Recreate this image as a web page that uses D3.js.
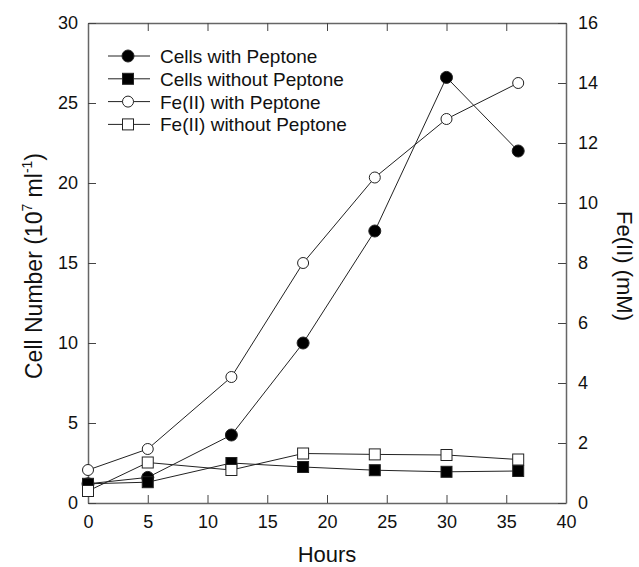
<!DOCTYPE html>
<html>
<head>
<meta charset="utf-8">
<title>Cell number and Fe(II) vs hours</title>
<script src="https://d3js.org/d3.v7.min.js"></script>
<style>
  body { margin: 0; background: #fff; }
  svg { display: block; font-family: "Liberation Sans", Arial, sans-serif; }
</style>
</head>
<body>
<svg id="chart" width="639" height="567"></svg>
<script>
// values
const hours = [0, 5, 12, 18, 24, 30, 36];
const cellsWithPeptone = [1.2, 1.6, 4.25, 10.0, 17.0, 26.6, 22.0];
const cellsWithoutPeptone = [1.2, 1.3, 2.5, 2.25, 2.05, 1.95, 2.0];
const feWithPeptone = [1.1, 1.8, 4.2, 8.0, 10.85, 12.8, 14.0];
const feWithoutPeptone = [0.4, 1.35, 1.1, 1.65, 1.62, 1.6, 1.45];

const xTicks = [0, 5, 10, 15, 20, 25, 30, 35, 40];
const leftTicks = [0, 5, 10, 15, 20, 25, 30];
const rightTicks = [0, 2, 4, 6, 8, 10, 12, 14, 16];

const legendLabels = ["Cells with Peptone", "Cells without Peptone", "Fe(II) with Peptone", "Fe(II) without Peptone"];

const plotL = 88, plotR = 566, plotT = 23, plotB = 503;

const svg = d3.select("#chart");
const x = d3.scaleLinear().domain([0, 40]).range([plotL, plotR]);
const yL = d3.scaleLinear().domain([0, 30]).range([plotB, plotT]);
const yR = d3.scaleLinear().domain([0, 16]).range([plotB, plotT]);

// series setup
const series = [
  {vals: cellsWithPeptone, y: yL, shape: "circle", fill: "#000"},
  {vals: cellsWithoutPeptone, y: yL, shape: "square", fill: "#000"},
  {vals: feWithPeptone, y: yR, shape: "circle", fill: "#fff"},
  {vals: feWithoutPeptone, y: yR, shape: "square", fill: "#fff"}
];

// axes, ticks inward, frame
const tickLen = 8;
function axisGroup(axis, tx, ty) {
  const g = svg.append("g").attr("transform", "translate(" + tx + "," + ty + ")").call(axis);
  g.select(".domain").attr("stroke", "#666").attr("stroke-width", 1.5);
  g.selectAll(".tick line").attr("stroke", "#444");
  g.selectAll(".tick text").attr("font-size", 18).attr("fill", "#111")
    .attr("font-family", "Liberation Sans, Arial, sans-serif");
  return g;
}

axisGroup(d3.axisBottom(x).tickValues(xTicks).tickSizeInner(-tickLen).tickSizeOuter(0).tickPadding(12), 0, plotB);
axisGroup(d3.axisTop(x).tickValues(xTicks).tickSizeInner(-tickLen).tickSizeOuter(0).tickFormat(""), 0, plotT);
axisGroup(d3.axisLeft(yL).tickValues(leftTicks).tickSizeInner(-tickLen).tickSizeOuter(0).tickPadding(10), plotL, 0);
axisGroup(d3.axisRight(yR).tickValues(rightTicks).tickSizeInner(-tickLen).tickSizeOuter(0).tickPadding(12), plotR, 0);

// lines
const lineFor = s => d3.line().x((d, i) => x(hours[i])).y(d => s.y(d));
series.forEach(s => {
  svg.append("path").datum(s.vals)
    .attr("d", lineFor(s))
    .attr("fill", "none").attr("stroke", "#222").attr("stroke-width", 1);
});

function drawMarker(g, shape, fill, cx, cy) {
  if (shape === "circle") {
    g.append("circle").attr("cx", cx).attr("cy", cy).attr("r", fill === "#000" ? 6 : 5.5)
      .attr("fill", fill).attr("stroke", "#222").attr("stroke-width", 1);
  } else {
    const s = 11;
    g.append("rect").attr("x", cx - s / 2).attr("y", cy - s / 2).attr("width", s).attr("height", s)
      .attr("fill", fill).attr("stroke", "#222").attr("stroke-width", 1);
  }
}

// markers
series.forEach(s => {
  const g = svg.append("g");
  s.vals.forEach((v, i) => drawMarker(g, s.shape, s.fill, x(hours[i]), s.y(v)));
});

// legend
const leg = svg.append("g");
legendLabels.forEach((lab, i) => {
  const cy = 56 + i * 22.8;
  leg.append("line").attr("x1", 108).attr("x2", 150).attr("y1", cy).attr("y2", cy)
    .attr("stroke", "#222").attr("stroke-width", 1);
  drawMarker(leg, series[i].shape, series[i].fill, 128, cy);
  leg.append("text").attr("x", 160).attr("y", cy + 7).attr("font-size", 19).attr("fill", "#111").text(lab);
});

// axis titles
svg.append("text").attr("x", (plotL + plotR) / 2).attr("y", 562).attr("text-anchor", "middle")
  .attr("font-size", 22).attr("fill", "#111").text("Hours");

const lt = svg.append("text").attr("transform", "translate(42," + 266 + ") rotate(-90)")
  .attr("text-anchor", "middle").attr("font-size", 23).attr("fill", "#111");
lt.append("tspan").text("Cell Number (10");
lt.append("tspan").attr("font-size", 14).attr("dy", -10).text("7");
lt.append("tspan").attr("dy", 10).text(" ml");
lt.append("tspan").attr("font-size", 14).attr("dy", -10).text("-1");
lt.append("tspan").attr("dy", 10).text(")");

svg.append("text").attr("transform", "translate(617," + 266 + ") rotate(90)")
  .attr("text-anchor", "middle").attr("font-size", 22).attr("fill", "#111").text("Fe(II) (mM)");
</script>
</body>
</html>
